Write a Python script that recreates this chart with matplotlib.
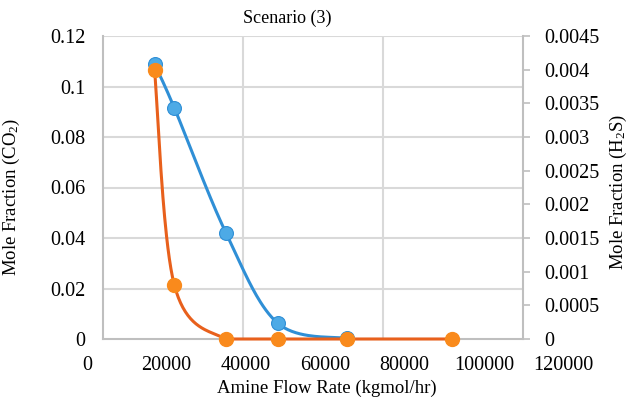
import numpy as np
import matplotlib
matplotlib.use("Agg")
import matplotlib.pyplot as plt

# ---- data ----
flow_co2 = [17000, 22000, 35000, 48000, 65500]
co2 = [0.1089, 0.0915, 0.0420, 0.0063, 0.0002]
flow_h2s = [17000, 22000, 35000, 48000, 65500, 92000]
h2s = [0.0040, 0.00080, 0.0, 0.0, 0.0, 0.0]
x_ticks = [0, 20000, 40000, 60000, 80000, 100000, 120000]
x_tick_labels = ["0", "20000", "40000", "60000", "80000", "100000", "120000"]
co2_ticks = [0, 0.02, 0.04, 0.06, 0.08, 0.10, 0.12]
co2_tick_labels = ["0", "0.02", "0.04", "0.06", "0.08", "0.1", "0.12"]
h2s_ticks = [0, 0.0005, 0.001, 0.0015, 0.002, 0.0025, 0.003, 0.0035, 0.004, 0.0045]
h2s_tick_labels = ["0", "0.0005", "0.001", "0.0015", "0.002", "0.0025",
                   "0.003", "0.0035", "0.004", "0.0045"]

# ---- style ----
plt.rcParams['font.family'] = ['Liberation Serif', 'DejaVu Serif']
plt.rcParams['mathtext.fontset'] = 'custom'
plt.rcParams['mathtext.rm'] = 'Liberation Serif'
plt.rcParams['mathtext.default'] = 'regular'

GRID = '#D9D9D9'
SPINE = '#BFBFBF'
BLUE_LINE = '#2F8FD6'
BLUE_MK = '#4DAAE6'
ORANGE_LINE = '#E8601C'
ORANGE_MK = '#F98A1C'

box_left, box_right = 4080, 109850   # plot-box extent in x data units (layout)
vgrid = [box_left + (box_right - box_left) / 3, box_left + 2 * (box_right - box_left) / 3]


def smooth(x, y, n=40):
    P = np.column_stack([x, y]).astype(float)
    out = []
    for i in range(len(P) - 1):
        p0 = P[i - 1] if i > 0 else P[i]
        p1, p2 = P[i], P[i + 1]
        p3 = P[i + 2] if i + 2 < len(P) else P[i + 1]
        c1 = p1 + (p2 - p0) / 6
        c2 = p2 - (p3 - p1) / 6
        t = np.linspace(0, 1, n)[:, None]
        seg = (1 - t) ** 3 * p1 + 3 * (1 - t) ** 2 * t * c1 + 3 * (1 - t) * t ** 2 * c2 + t ** 3 * p2
        out.append(seg if i == 0 else seg[1:])
    s = np.vstack(out)
    s[:, 1] = np.maximum(s[:, 1], 0)
    return s[:, 0], s[:, 1]


fig = plt.figure(figsize=(6.36, 3.98), dpi=100)
ax = fig.add_axes([87 / 636, (398 - 339) / 398, 476.5 / 636, 303 / 398])
ax.set_xlim(0, 120000)
ax.set_ylim(0, 0.12)

# gridlines limited to the plot box
for yv in co2_ticks[1:]:
    ax.hlines(yv, box_left, box_right, colors=GRID, lw=1.5, zorder=0.5)
ax.vlines(vgrid, 0, 0.12, colors=GRID, lw=1.5, zorder=0.5)

for s in ['top', 'right']:
    ax.spines[s].set_visible(False)
ax.spines['left'].set_position(('data', box_left))
ax.spines['left'].set_color(SPINE)
ax.spines['left'].set_linewidth(1.5)
ax.spines['bottom'].set_bounds(box_left, box_right)
ax.spines['bottom'].set_color(SPINE)
ax.spines['bottom'].set_linewidth(1.5)

ax.set_xticks(x_ticks)
ax.set_xticklabels(x_tick_labels)
ax.set_yticks(co2_ticks)
ax.set_yticklabels(co2_tick_labels)
ax.tick_params(axis='x', length=0, pad=12, labelsize=14.5)
ax.tick_params(axis='y', length=0, pad=13, labelsize=14.5)

xs, ys = smooth(flow_co2, co2)
ax.plot(xs, ys, color=BLUE_LINE, lw=2.2, zorder=3, clip_on=False, solid_capstyle='round')
ax.plot(flow_co2, co2, 'o', color=BLUE_MK, mec=BLUE_LINE, mew=0.8, ms=10, zorder=4, clip_on=False)

ax.set_xlabel('Amine Flow Rate (kgmol/hr)', fontsize=13.5)
ax.xaxis.set_label_coords(0.504, -0.135)
ax.set_ylabel('Mole Fraction (CO$_2$)', fontsize=13.5)
ax.yaxis.set_label_coords(-0.136, 0.469)

ax2 = ax.twinx()
ax2.set_ylim(0, 0.0045)
for s in ['top', 'left', 'bottom']:
    ax2.spines[s].set_visible(False)
ax2.spines['right'].set_position(('data', box_right))
ax2.spines['right'].set_color(SPINE)
ax2.spines['right'].set_linewidth(1.5)
ax2.set_yticks(h2s_ticks)
ax2.set_yticklabels(h2s_tick_labels)
ax2.tick_params(axis='y', length=5, width=1.2, color=SPINE, pad=10, labelsize=14.5)

xs2, ys2 = smooth(flow_h2s, h2s)
ax2.plot(xs2, ys2, color=ORANGE_LINE, lw=2.2, zorder=3, clip_on=False, solid_capstyle='round')
ax2.plot(flow_h2s, h2s, 'o', color=ORANGE_MK, mec=ORANGE_MK, ms=10, zorder=4, clip_on=False)
ax2.set_ylabel('Mole Fraction (H$_2$S)', fontsize=13.5)
ax2.yaxis.set_label_coords(1.093, 0.485)

fig.text(287 / 636, 1 - 18 / 398, 'Scenario (3)', ha='center', va='center', fontsize=13)

fig.savefig('out.png', dpi=100)
